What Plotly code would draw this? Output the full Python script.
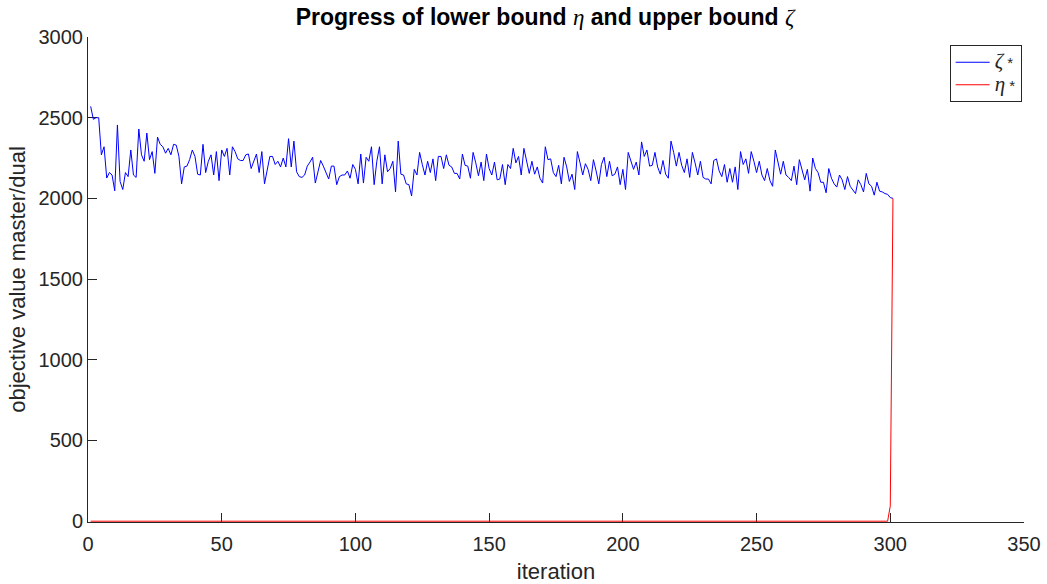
import plotly.graph_objects as go

iterations = list(range(1, 302))

zeta_values = [
    2570, 2490, 2500, 2500, 2270, 2320, 2126, 2160, 2145, 2047,
    2455, 2105, 2055, 2160, 2135, 2300, 2145, 2130, 2430, 2270,
    2230, 2405, 2240, 2290, 2155, 2380, 2335, 2320, 2280, 2310,
    2270, 2335, 2330, 2260, 2090, 2195, 2200, 2240, 2300, 2260,
    2150, 2145, 2335, 2160, 2230, 2270, 2145, 2290, 2110, 2300,
    2260, 2310, 2145, 2320, 2290, 2245, 2235, 2235, 2270, 2275,
    2185, 2230, 2275, 2160, 2290, 2090, 2180, 2260, 2260, 2210,
    2230, 2195, 2250, 2195, 2370, 2195, 2355, 2165, 2135, 2130,
    2145, 2200, 2225, 2255, 2095, 2160, 2235, 2200, 2160, 2120,
    2200, 2200, 2085, 2135, 2145, 2145, 2170, 2125, 2210, 2180,
    2090, 2275, 2095, 2255, 2230, 2320, 2085, 2230, 2320, 2090,
    2270, 2165, 2185, 2230, 2040, 2355, 2150, 2145, 2090, 2085,
    2015, 2180, 2145, 2285, 2210, 2145, 2230, 2160, 2245, 2110,
    2260, 2260, 2185, 2270, 2205, 2195, 2155, 2155, 2120, 2275,
    2205, 2200, 2125, 2285, 2220, 2140, 2225, 2110, 2275, 2185,
    2145, 2225, 2115, 2120, 2210, 2085, 2210, 2185, 2310, 2220,
    2260, 2145, 2310, 2235, 2155, 2230, 2150, 2195, 2125, 2095,
    2320, 2240, 2245, 2160, 2135, 2205, 2090, 2255, 2195, 2105,
    2150, 2055, 2290, 2220, 2145, 2215, 2180, 2110, 2240, 2170,
    2090, 2210, 2255, 2135, 2230, 2140, 2150, 2195, 2085, 2180,
    2055, 2285, 2230, 2180, 2225, 2145, 2350, 2260, 2300, 2200,
    2205, 2285, 2195, 2150, 2235, 2150, 2125, 2355, 2285, 2200,
    2285, 2205, 2160, 2245, 2130, 2285, 2220, 2145, 2230, 2130,
    2120, 2120, 2090, 2235, 2245, 2170, 2135, 2210, 2100, 2185,
    2100, 2195, 2055, 2290, 2210, 2245, 2155, 2290, 2230, 2160,
    2230, 2145, 2110, 2185, 2110, 2075, 2300, 2220, 2150, 2230,
    2145, 2130, 2110, 2200, 2085, 2240, 2180, 2115, 2180, 2045,
    2250, 2185, 2160, 2100, 2100, 2035, 2185, 2125, 2090, 2070,
    2145, 2115, 2055, 2135, 2075, 2055, 2030, 2115, 2085, 2040,
    2155, 2090, 2075, 2020, 2100, 2045, 2040, 2030, 2025, 2005,
    2000,
]

eta_values = [0] * 299 + [95, 2000]

x_ticks = [0, 50, 100, 150, 200, 250, 300, 350]
y_ticks = [0, 500, 1000, 1500, 2000, 2500, 3000]

FONT = "Liberation Sans, Arial, Helvetica, sans-serif"
SERIF = "Liberation Serif, DejaVu Serif, serif"
AX = "#262626"


def greek(ch, size=None):
    style = "font-family:%s;font-weight:normal" % SERIF
    if size:
        style += ";font-size:%dpx" % size
    return '<span style="%s"><i>%s</i></span>' % (style, ch)


fig = go.Figure()
fig.add_trace(go.Scatter(
    x=iterations, y=zeta_values, mode="lines",
    line=dict(color="#0000FF", width=1),
    name=greek("ζ", 21) + " *",
))
fig.add_trace(go.Scatter(
    x=iterations, y=eta_values, mode="lines",
    line=dict(color="#FF0000", width=1),
    name=greek("η", 21) + " *",
))

fig.update_layout(
    width=1047, height=584,
    margin=dict(l=88, r=23, t=37, b=62, autoexpand=False),
    paper_bgcolor="white", plot_bgcolor="white",
    font=dict(family=FONT, size=20, color=AX),
    title=dict(
        text="<b>Progress of lower bound</b> " + greek("η")
             + " <b>and upper bound</b> " + greek("ζ"),
        x=545 / 1047, xanchor="center",
        y=1 - 17 / 584, yanchor="middle", yref="container",
        font=dict(family=FONT, size=23, color="black"),
    ),
    showlegend=True,
    legend=dict(
        x=0.9975, y=0.9835, xanchor="right", yanchor="top",
        bgcolor="white", bordercolor=AX, borderwidth=1,
        font=dict(family=FONT, size=15, color=AX),
        tracegroupgap=0, itemwidth=34,
    ),
    xaxis=dict(
        range=[0, 350], tickvals=x_ticks, ticktext=[str(v) for v in x_ticks],
        ticks="inside", ticklen=9, tickcolor=AX, tickwidth=1,
        showline=True, linecolor=AX, linewidth=1, mirror=False,
        showgrid=False, zeroline=False, layer="below traces",
        ticklabelstandoff=4,
        title=dict(text="iteration", font=dict(size=22, color=AX), standoff=10),
        tickfont=dict(size=20, color=AX),
    ),
    yaxis=dict(
        range=[-5, 3000], tickvals=y_ticks, ticktext=[str(v) for v in y_ticks],
        ticks="inside", ticklen=9, tickcolor=AX, tickwidth=1,
        showline=True, linecolor=AX, linewidth=1, mirror=False,
        showgrid=False, zeroline=False, layer="below traces",
        title=dict(text="objective value master/dual", font=dict(size=22, color=AX), standoff=6),
        tickfont=dict(size=20, color=AX),
    ),
)

fig.write_html("out.html")
